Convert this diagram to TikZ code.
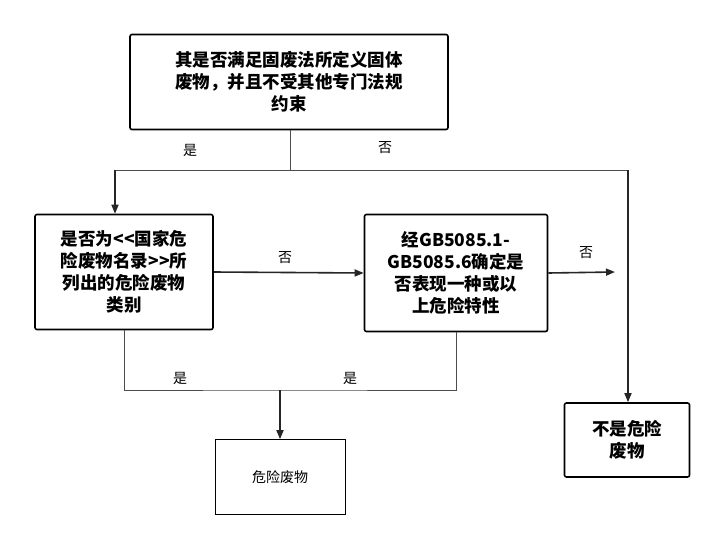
\documentclass[tikz,border=0pt]{standalone}
\usepackage{fontspec}
\setmainfont{Noto Sans CJK SC}[Ligatures=NoCommon]
\usetikzlibrary{arrows.meta}
\begin{document}
\begin{tikzpicture}[x=1pt,y=-1pt,
  box/.style={draw=black,line width=1.6pt,rounded corners=2pt,align=center,font=\fontsize{17.5}{22}\selectfont\bfseries,inner sep=0pt},
  thin/.style={draw=black,line width=0.6pt,align=center,font=\fontsize{14}{18}\selectfont},
  ln/.style={draw=black!70,line width=0.8pt},
  ar/.style={draw=black!85,line width=1.6pt,-{Triangle[length=9pt,width=7pt]}},
  lab/.style={font=\fontsize{14}{16}\selectfont}]
\useasboundingbox (0,0) rectangle (726,552);
\node[box,minimum width=318pt,minimum height=95pt] (a) at (289,82) {其是否满足固废法所定义固体\\废物，并且不受其他专门法规\\约束};
\node[box,minimum width=178pt,minimum height=115pt] (b) at (124,272) {是否为{<}{<}国家危\\险废物名录{>}{>}所\\列出的危险废物\\类别};
\node[box,minimum width=183pt,minimum height=117pt] (c) at (456,273) {经GB5085.1-\\GB5085.6确定是\\否表现一种或以\\上危险特性};
\node[thin,minimum width=130pt,minimum height=75pt] (d) at (280,477) {危险废物};
\node[box,minimum width=125pt,minimum height=74pt] (e) at (627,440) {不是危险\\废物};
\coordinate (j) at (290,170);
\coordinate (bl) at (115,170);
\coordinate (br) at (628,170);
\coordinate (f) at (615,272);
\coordinate (m) at (280,390);
\draw[ln] (a.south -| j) -- (j) -- (bl);
\draw[ln] (j) -- (br);
\draw[ar] (bl) -- (bl |- b.north);
\draw[ar] (br) -- (br |- e.north);
\draw[ar] (b.east) -- (c.west);
\draw[ar] (c.east) -- (f);
\draw[ln] (b.south) |- (m) -| (c.south);
\draw[ar] (m) -- (d.north);
\node[lab] at (190,150) {是};
\node[lab] at (385,148) {否};
\node[lab] at (285,258) {否};
\node[lab] at (586,253) {否};
\node[lab] at (180,378) {是};
\node[lab] at (350,378) {是};
\end{tikzpicture}
\end{document}
